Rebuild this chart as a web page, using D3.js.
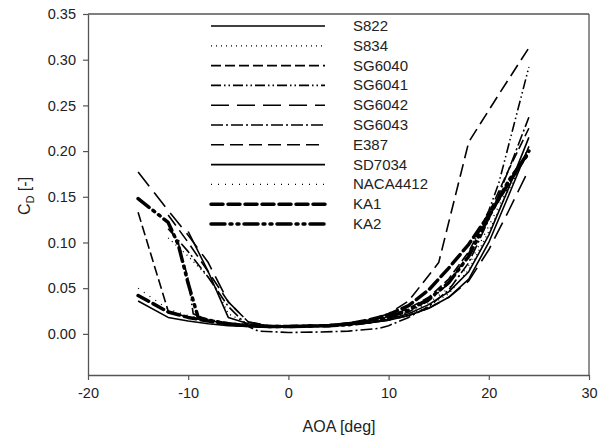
<!DOCTYPE html>
<html>
<head>
<meta charset="utf-8">
<script src="https://cdn.jsdelivr.net/npm/d3@7.9.0/dist/d3.min.js"></script>
<style>
  body { margin: 0; background: #fff; }
  svg { font-family: Arial, "Liberation Sans", sans-serif; }
</style>
</head>
<body>
<div id="chart"></div>
<script>
/* ── data ──────────────────────────────────────────────────────── */
const xTicks = [-20, -10, 0, 10, 20, 30];
const yTicks = [0.00, 0.05, 0.10, 0.15, 0.20, 0.25, 0.30, 0.35];

const names = ['S822', 'S834', 'SG6040', 'SG6041', 'SG6042', 'SG6043',
               'E387', 'SD7034', 'NACA4412', 'KA1', 'KA2'];

// angle of attack and drag coefficient per airfoil
const aoaS822  = [-15, -12, -10, -8, -6, -4, -2, 0, 2, 4, 6, 8, 10, 12, 14, 16, 18, 20, 22, 24];
const cdS822   = [0.036, 0.018, 0.014, 0.011, 0.009, 0.008, 0.0075, 0.0075, 0.008, 0.0085, 0.010, 0.012, 0.016, 0.022, 0.032, 0.046, 0.068, 0.108, 0.160, 0.215];

const aoaS834  = [-12, -10, -8, -7, -6, -4, -2, 0, 2, 4, 6, 8, 10, 12, 14, 16, 18, 20, 22, 24];
const cdS834   = [0.105, 0.085, 0.062, 0.045, 0.022, 0.011, 0.009, 0.008, 0.0085, 0.009, 0.010, 0.012, 0.015, 0.021, 0.030, 0.044, 0.070, 0.112, 0.158, 0.200];

const aoaSG6040 = [-15, -12, -10, -8, -6, -4, -2, 0, 2, 4, 6, 8, 10, 12, 14, 16, 18, 20, 22, 24];
const cdSG6040  = [0.133, 0.025, 0.018, 0.014, 0.011, 0.009, 0.008, 0.008, 0.0085, 0.009, 0.011, 0.014, 0.019, 0.028, 0.040, 0.060, 0.090, 0.132, 0.180, 0.225];

const aoaSG6041 = [-12, -11, -10, -9.5, -8, -6, -4, -2, 0, 2, 4, 6, 8, 10, 12, 14, 16, 18, 20, 21, 24];
const cdSG6041  = [0.120, 0.100, 0.060, 0.022, 0.015, 0.011, 0.009, 0.008, 0.008, 0.0085, 0.009, 0.010, 0.012, 0.016, 0.024, 0.036, 0.055, 0.088, 0.135, 0.165, 0.292];

const aoaSG6042 = [-15, -12, -10, -8, -6, -4, -2, 0, 2, 4, 6, 8, 10, 12, 14, 16, 18, 20, 22, 24];
const cdSG6042  = [0.177, 0.135, 0.108, 0.078, 0.035, 0.013, 0.009, 0.008, 0.008, 0.009, 0.010, 0.012, 0.015, 0.020, 0.028, 0.040, 0.058, 0.092, 0.135, 0.180];

const aoaSG6043 = [-12, -10, -8, -6, -4, -3, 0, 3, 6, 9, 10, 12, 14, 16, 18, 20, 22, 24];
const cdSG6043  = [0.115, 0.090, 0.062, 0.030, 0.008, 0.003, 0.0015, 0.002, 0.003, 0.006, 0.009, 0.018, 0.030, 0.048, 0.078, 0.125, 0.180, 0.237];

const aoaE387  = [-12, -10, -8, -6, -4, -2, 0, 2, 4, 6, 8, 10, 12, 15, 18, 21, 24];
const cdE387   = [0.130, 0.100, 0.068, 0.035, 0.013, 0.009, 0.008, 0.009, 0.010, 0.012, 0.015, 0.022, 0.036, 0.078, 0.210, 0.262, 0.313];

const aoaSD7034 = [-10, -8, -6, -4, -2, 0, 2, 4, 6, 8, 10, 12, 14, 16, 18, 20, 22, 24];
const cdSD7034  = [0.112, 0.068, 0.018, 0.011, 0.009, 0.008, 0.008, 0.009, 0.010, 0.012, 0.015, 0.020, 0.028, 0.040, 0.060, 0.100, 0.152, 0.205];

const aoaNACA4412 = [-15, -12, -10, -8, -6, -4, -2, 0, 2, 4, 6, 8, 10, 12, 14, 16, 18, 20, 22, 24];
const cdNACA4412  = [0.050, 0.027, 0.020, 0.016, 0.012, 0.010, 0.009, 0.009, 0.009, 0.010, 0.011, 0.013, 0.017, 0.024, 0.034, 0.050, 0.075, 0.118, 0.162, 0.205];

const aoaKA1   = [-15, -12, -10, -8, -6, -4, -2, 0, 2, 4, 6, 8, 10, 12, 14, 16, 18, 20, 22, 24];
const cdKA1    = [0.042, 0.024, 0.018, 0.014, 0.011, 0.009, 0.008, 0.008, 0.0085, 0.009, 0.011, 0.015, 0.021, 0.031, 0.048, 0.072, 0.098, 0.130, 0.165, 0.200];

const aoaKA2   = [-15, -12, -11, -10, -9, -8, -6, -4, -2, 0, 2, 4, 6, 8, 10, 12, 14, 16, 18, 20, 22, 24];
const cdKA2    = [0.148, 0.122, 0.098, 0.055, 0.018, 0.015, 0.011, 0.009, 0.008, 0.008, 0.0085, 0.009, 0.010, 0.013, 0.018, 0.026, 0.038, 0.056, 0.085, 0.128, 0.168, 0.198];

const aoaAll = [aoaS822, aoaS834, aoaSG6040, aoaSG6041, aoaSG6042, aoaSG6043,
                aoaE387, aoaSD7034, aoaNACA4412, aoaKA1, aoaKA2];
const cdAll  = [cdS822, cdS834, cdSG6040, cdSG6041, cdSG6042, cdSG6043,
                cdE387, cdSD7034, cdNACA4412, cdKA1, cdKA2];

/* ── line styles (SigmaPlot-like) ──────────────────────────────── */
const styles = [
  { dash: null,                 w: 1.6 },  // S822
  { dash: '1,4',                w: 1.3 },  // S834
  { dash: '10,4',               w: 1.6 },  // SG6040
  { dash: '10,3,1.5,3,1.5,3',   w: 1.6 },  // SG6041
  { dash: '18,8',               w: 1.6 },  // SG6042
  { dash: '12,3,2,3',           w: 1.6 },  // SG6043
  { dash: '13,6',               w: 1.6 },  // E387
  { dash: null,                 w: 1.6 },  // SD7034
  { dash: '1,6',                w: 1.3 },  // NACA4412
  { dash: '12,5',               w: 3.5 },  // KA1
  { dash: '14,5,2,5,2,5',       w: 3.5 }   // KA2
];

/* ── layout ────────────────────────────────────────────────────── */
const width = 607, height = 439;
const margin = { left: 88, right: 18, top: 14, bottom: 64 };

const svg = d3.select('#chart').append('svg')
  .attr('width', width)
  .attr('height', height);

const x = d3.scaleLinear().domain([-20, 30]).range([margin.left, width - margin.right]);
const y = d3.scaleLinear().domain([-0.045, 0.35]).range([height - margin.bottom, margin.top]);

const axisColor = '#555';
const textColor = '#222';

/* frame: top and right plain lines */
svg.append('line')
  .attr('x1', x(-20)).attr('x2', x(30))
  .attr('y1', y(0.35)).attr('y2', y(0.35))
  .attr('stroke', axisColor).attr('stroke-width', 1.3);
svg.append('line')
  .attr('x1', x(30)).attr('x2', x(30))
  .attr('y1', y(0.35)).attr('y2', y(-0.045))
  .attr('stroke', axisColor).attr('stroke-width', 1.3);

/* axes */
const gx = svg.append('g')
  .attr('transform', `translate(0,${y(-0.045)})`)
  .call(d3.axisBottom(x).tickValues(xTicks).tickSize(5).tickPadding(8)
          .tickFormat(d => String(d)).tickSizeOuter(0));
const gy = svg.append('g')
  .attr('transform', `translate(${x(-20)},0)`)
  .call(d3.axisLeft(y).tickValues(yTicks).tickSize(5).tickPadding(7)
          .tickFormat(d3.format('.2f')).tickSizeOuter(0));

[gx, gy].forEach(g => {
  g.select('.domain').attr('stroke', axisColor).attr('stroke-width', 1.3);
  g.selectAll('.tick line').attr('stroke', axisColor).attr('stroke-width', 1.2);
  g.selectAll('.tick text')
    .attr('fill', textColor)
    .style('font-size', '14.5px')
    .style('font-family', 'Arial, "Liberation Sans", sans-serif');
});

/* axis titles */
svg.append('text')
  .attr('x', 339).attr('y', 432)
  .attr('text-anchor', 'middle')
  .attr('fill', textColor)
  .style('font-size', '16px')
  .text('AOA [deg]');

const yt = svg.append('text')
  .attr('transform', 'translate(30,196) rotate(-90)')
  .attr('text-anchor', 'middle')
  .attr('fill', textColor)
  .style('font-size', '16px');
yt.append('tspan').text('C');
yt.append('tspan').attr('dy', 4).style('font-size', '11px').text('D');
yt.append('tspan').attr('dy', -4).text(' [-]');

/* curves */
const line = d3.line()
  .x(d => x(d[0]))
  .y(d => y(d[1]));

const curves = svg.append('g');
names.forEach((name, i) => {
  const pts = aoaAll[i].map((a, k) => [a, cdAll[i][k]]);
  curves.append('path')
    .datum(pts)
    .attr('d', line)
    .attr('fill', 'none')
    .attr('stroke', '#000')
    .attr('stroke-width', styles[i].w)
    .attr('stroke-dasharray', styles[i].dash)
    .attr('stroke-linecap', styles[i].w > 2 ? 'round' : 'butt')
    .attr('stroke-linejoin', 'round');
});

/* legend */
const legend = svg.append('g');
names.forEach((name, i) => {
  const ly = 26 + i * 19.8;
  legend.append('line')
    .attr('x1', 211).attr('x2', 325)
    .attr('y1', ly).attr('y2', ly)
    .attr('stroke', '#000')
    .attr('stroke-width', styles[i].w)
    .attr('stroke-dasharray', styles[i].dash)
    .attr('stroke-linecap', styles[i].w > 2 ? 'round' : 'butt');
  legend.append('text')
    .attr('x', 353).attr('y', ly + 5)
    .attr('fill', textColor)
    .style('font-size', '15px')
    .text(name);
});
</script>
</body>
</html>
